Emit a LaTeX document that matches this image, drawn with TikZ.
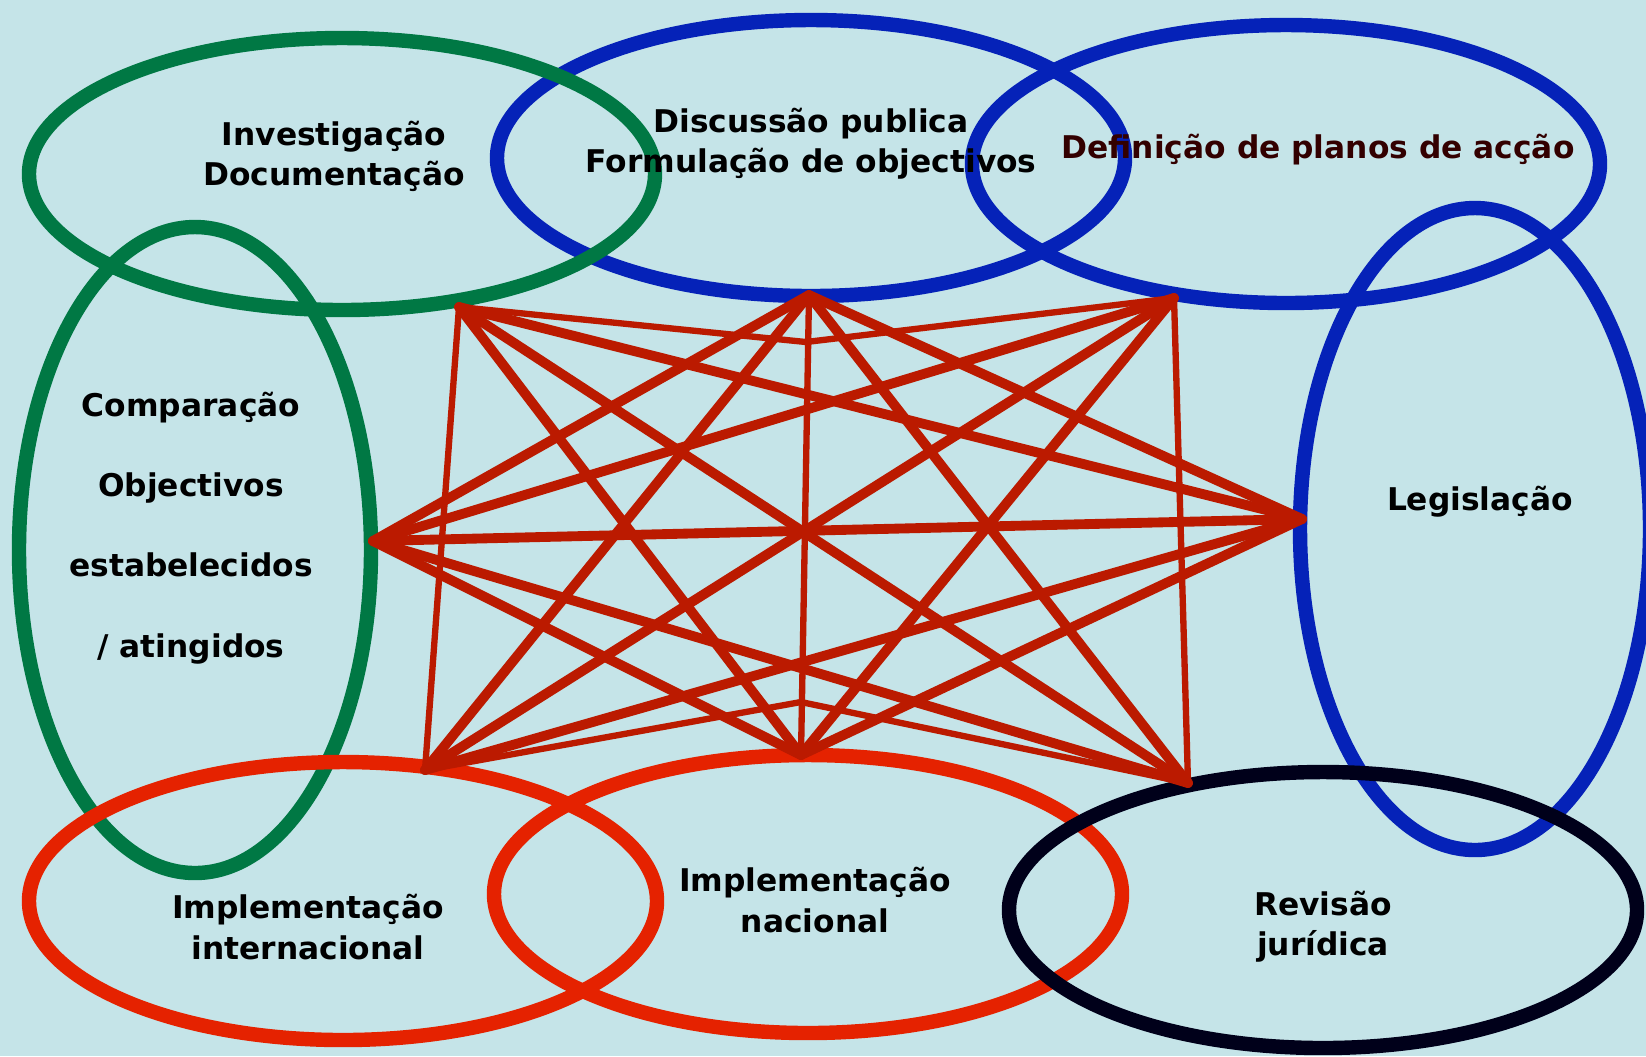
\documentclass[tikz,border=0pt]{standalone}
\usepackage{fontspec}
\setmainfont{DejaVu Sans}

\definecolor{bgcyan}{RGB}{197,228,232}
\definecolor{ringgreen}{RGB}{0,120,68}
\definecolor{ringblue}{RGB}{5,34,184}
\definecolor{ringred}{RGB}{229,34,0}
\definecolor{ringblack}{RGB}{0,0,26}
\definecolor{linkred}{RGB}{187,26,0}
\definecolor{darkbrown}{RGB}{51,0,0}

\begin{document}
\begin{tikzpicture}[
    x=0.01cm, y=-0.01cm,
    ring/.style={line width=4.1pt},
    link/.style={linkred, line width=2.8pt, line cap=round},
    thinlink/.style={linkred, line width=1.8pt, line cap=round},
    txt/.style={font=\bfseries\fontsize{8.9}{11.4}\selectfont, align=center, inner sep=0pt}
]

% Background
\fill[bgcyan] (0,0) rectangle (1646,1056);
\useasboundingbox (0,0) rectangle (1646,1056);

% Rings
\draw[ring, ringblue] (811,158) ellipse (314 and 138);
\draw[ring, ringblue] (1286,164) ellipse (314 and 139);
\draw[ring, ringblue] (1475,529) ellipse (175 and 321);
\draw[ring, ringgreen] (195,550) ellipse (176 and 323);
\draw[ring, ringgreen] (342,174) ellipse (313 and 136);
\draw[ring, ringred] (343,901) ellipse (314 and 139);
\draw[ring, ringred] (808,894) ellipse (314 and 139);
\draw[ring, ringblack] (1323,910) ellipse (314 and 138);

% Corner points of the network
\coordinate (pA) at (459,307);
\coordinate (pB) at (809,295);
\coordinate (pC) at (1174,298);
\coordinate (pD) at (373,541);
\coordinate (pE) at (1302,519);
\coordinate (pF) at (425,770);
\coordinate (pG) at (801,755);
\coordinate (pH) at (1188,783);
\coordinate (mTop) at (806,342);
\coordinate (mBot) at (801,702);

% Links
\draw[thinlink] (pA) -- (mTop) -- (pC);
\draw[thinlink] (pF) -- (mBot) -- (pH);
\draw[thinlink] (pA) -- (pF);
\draw[thinlink] (pC) -- (pH);
\draw[thinlink] (pB) -- (pG);
\foreach \s/\t in {pA/pE, pA/pG, pA/pH,
                   pB/pD, pB/pE, pB/pF, pB/pH,
                   pC/pD, pC/pF, pC/pG,
                   pD/pE, pD/pG, pD/pH,
                   pE/pF, pE/pG}
    \draw[link] (\s) -- (\t);

% Labels
\node[txt] (invest) at (334,156) {Investigação\\Documentação};
\node[txt] (discuss) at (811,144) {Discussão publica\\Formulação de objectivos};
\node[txt, darkbrown] (plans) at (1318,150) {Definição de planos de acção};
\node[txt, font=\bfseries\fontsize{8.9}{22.8}\selectfont] (compare) at (191,528)
    {Comparação\\Objectivos\\estabelecidos\\/ atingidos};
\node[txt] (legis) at (1480,502) {Legislação};
\node[txt] (intl) at (308,927) {Implementação\\internacional};
\node[txt] (natl) at (815,900) {Implementação\\nacional};
\node[txt] (review) at (1323,927) {Revisão\\jurídica};

\end{tikzpicture}
\end{document}
